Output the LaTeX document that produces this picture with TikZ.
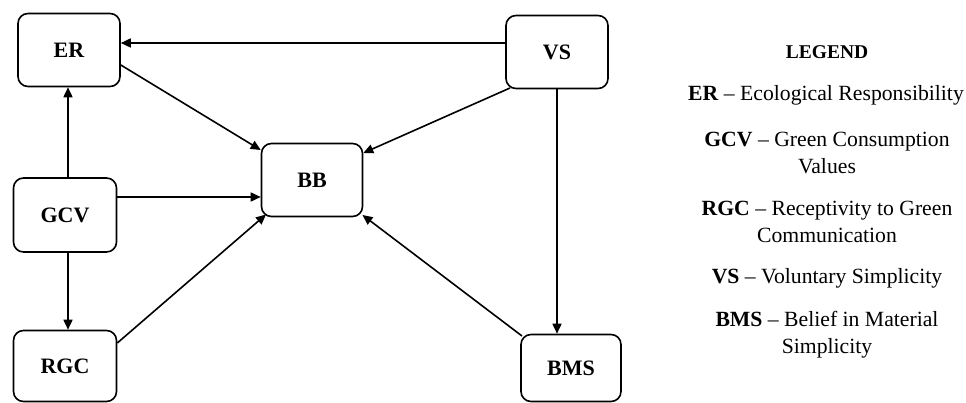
\documentclass[tikz,border=0pt]{standalone}
\usepackage{fontspec}
\setmainfont{Liberation Serif}
\usetikzlibrary{arrows.meta}
\begin{document}
\begin{tikzpicture}[x=1pt,y=-1pt,
  box/.style={draw=black, line width=1.6pt, rounded corners=10pt, inner sep=0pt,
    minimum width=102pt, minimum height=73pt,
    font=\fontsize{22}{26}\selectfont\bfseries},
  conn/.style={line width=1.6pt, -{Triangle[length=10pt,width=9pt]}},
  leg/.style={align=center, font=\fontsize{21.7}{27}\selectfont, inner sep=0pt}]
\path[use as bounding box, fill=white] (0,0) rectangle (966,403);

\node[box] (ER) at (69,50) {ER};
\node[box, minimum width=103pt, minimum height=74pt] (GCV) at (65,215) {GCV};
\node[box, minimum width=103pt, minimum height=71pt] (RGC) at (65,366) {RGC};
\node[box, minimum width=101pt] (BB) at (312,180) {BB};
\node[box] (VS) at (557,52) {VS};
\node[box, minimum width=100pt, minimum height=67pt] (BMS) at (571,368) {BMS};

\draw[conn] (VS.west |- 0,43) -- (ER.east |- 0,43);
\draw[conn] (ER.east |- 0,65) -- (BB.west |- 0,150);
\draw[conn] (GCV.north -| 68,0) -- (ER.south -| 68,0);
\draw[conn] (GCV.east |- 0,197) -- (BB.west |- 0,197);
\draw[conn] (GCV.south -| 68,0) -- (RGC.north -| 68,0);
\draw[conn] (RGC.east |- 0,343) -- (266,214.5);
\draw[conn] (510,88) -- (BB.east |- 0,153);
\draw[conn] (VS.south) -- (VS.south |- BMS.north);
\draw[conn] (522,336) -- (362.5,215);

\node[leg, font=\fontsize{19.5}{24}\selectfont\bfseries] (LG) at (827,52) {LEGEND};
\node[leg] (L1) at (826,95) {\textbf{ER} – Ecological Responsibility};
\node[leg] (L2) at (827,152.5) {\textbf{GCV} – Green Consumption\\Values};
\node[leg] (L3) at (827,221.5) {\textbf{RGC} – Receptivity to Green\\Communication};
\node[leg] (L4) at (827,278) {\textbf{VS} – Voluntary Simplicity};
\node[leg] (L5) at (827,334.5) {\textbf{BMS} – Belief in Material\\Simplicity};
\end{tikzpicture}
\end{document}
